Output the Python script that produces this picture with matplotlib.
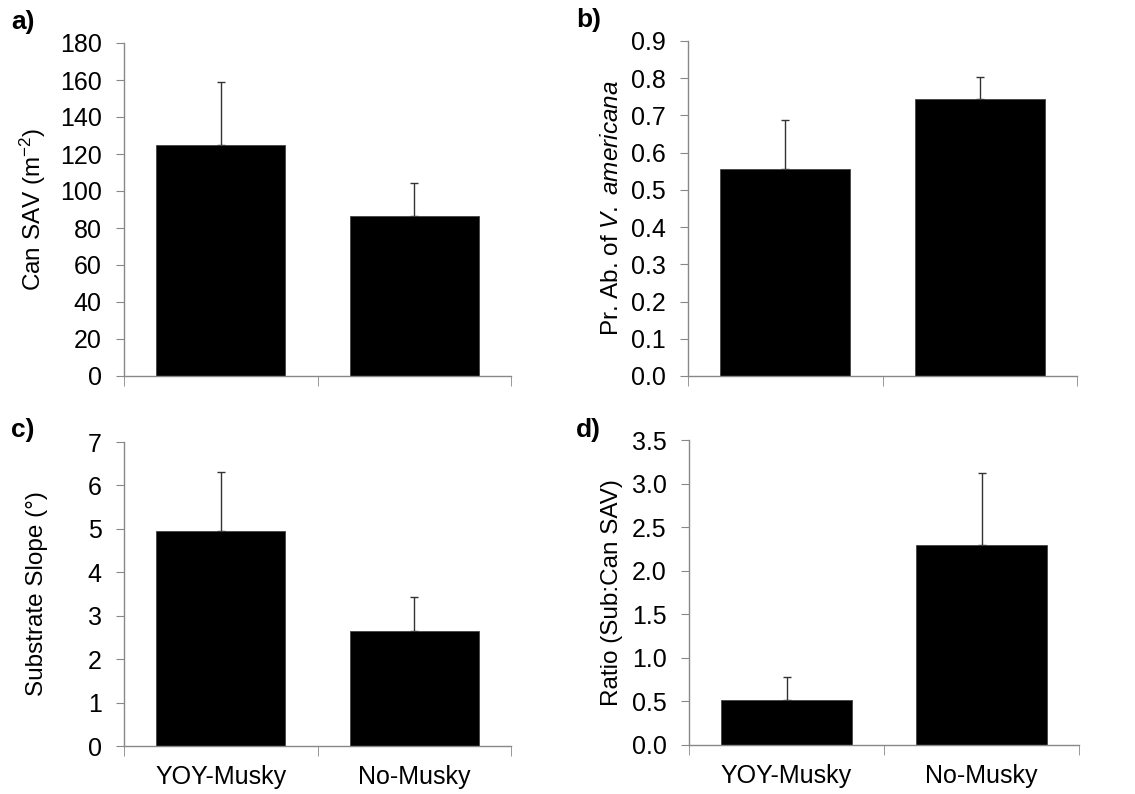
import numpy as np
import matplotlib
matplotlib.use('Agg')
import matplotlib.pyplot as plt
from matplotlib.ticker import FixedLocator

plt.rcParams['font.family'] = ['Liberation Sans', 'DejaVu Sans']
plt.rcParams['mathtext.fontset'] = 'custom'
plt.rcParams['mathtext.rm'] = 'Liberation Sans'
plt.rcParams['mathtext.it'] = 'Liberation Sans:italic'

groups = ['YOY-Musky', 'No-Musky']

can_sav = [125, 86.5]
can_sav_se = [34, 18]

pr_ab = [0.556, 0.744]
pr_ab_se = [0.132, 0.059]

slope = [4.95, 2.65]
slope_se = [1.37, 0.77]

ratio = [0.52, 2.29]
ratio_se = [0.26, 0.83]

panels = [
    ('a)', can_sav, can_sav_se, 'Can SAV (m$^{-2}$)', np.arange(0, 181, 20), '%d', False),
    ('b)', pr_ab, pr_ab_se, r'Pr. Ab. of $\mathit{V.\ americana}$', np.arange(0, 0.91, 0.1), '%.1f', False),
    ('c)', slope, slope_se, 'Substrate Slope (°)', np.arange(0, 7.1, 1), '%d', True),
    ('d)', ratio, ratio_se, 'Ratio (Sub:Can SAV)', np.arange(0, 3.51, 0.5), '%.1f', True),
]

# figure pixel boxes: left, right, top, bottom
boxes = [(124, 511, 43, 376), (688, 1077, 41, 376),
         (124, 511, 442, 746), (689, 1079, 440, 745)]
letter_pos = [(11, 22), (576, 20), (11, 430), (576, 430)]
ylabel_x = [48, 623, 48, 623]
W, H = 1135, 794
axis_gray = '#888888'

fig = plt.figure(figsize=(W / 100, H / 100), dpi=100)

for (letter, vals, errs, ylab, yt, fmt, show_x), (l, r, t, b), (lx, ly), yx in zip(panels, boxes, letter_pos, ylabel_x):
    ax = fig.add_axes([l / W, 1 - b / H, (r - l) / W, (b - t) / H])
    x = np.arange(len(groups))
    ax.bar(x, vals, width=0.667, color='black', edgecolor='#444444', linewidth=0.6, zorder=2)
    ax.errorbar(x, vals, yerr=[[0, 0], errs], fmt='none', ecolor='#333333',
                elinewidth=1, capsize=3, capthick=1, zorder=1)
    ax.set_xlim(-0.5, 1.5)
    ax.set_ylim(yt[0], yt[-1])
    ax.set_yticks(yt)
    ax.set_yticklabels([fmt % v for v in yt])
    for s in ['top', 'right']:
        ax.spines[s].set_visible(False)
    for s in ['left', 'bottom']:
        ax.spines[s].set_color(axis_gray)
        ax.spines[s].set_linewidth(1)
    ax.tick_params(axis='y', direction='out', length=6, color=axis_gray, labelsize=18, pad=10)
    ax.set_xticks(x)
    ax.xaxis.set_minor_locator(FixedLocator([-0.5, 0.5, 1.5]))
    ax.tick_params(axis='x', which='major', length=0, labelsize=18, pad=14)
    ax.tick_params(axis='x', which='minor', direction='out', length=7, color=axis_gray)
    if show_x:
        ax.set_xticklabels(groups)
    else:
        ax.set_xticklabels(['', ''])
    ax.set_ylabel(ylab, fontsize=17.5)
    ax.yaxis.set_label_coords((yx - l) / (r - l), 0.5)
    fig.text(lx / W, 1 - ly / H, letter, fontsize=19, fontweight='bold', va='center', ha='left')

fig.savefig('out.png', dpi=100)
